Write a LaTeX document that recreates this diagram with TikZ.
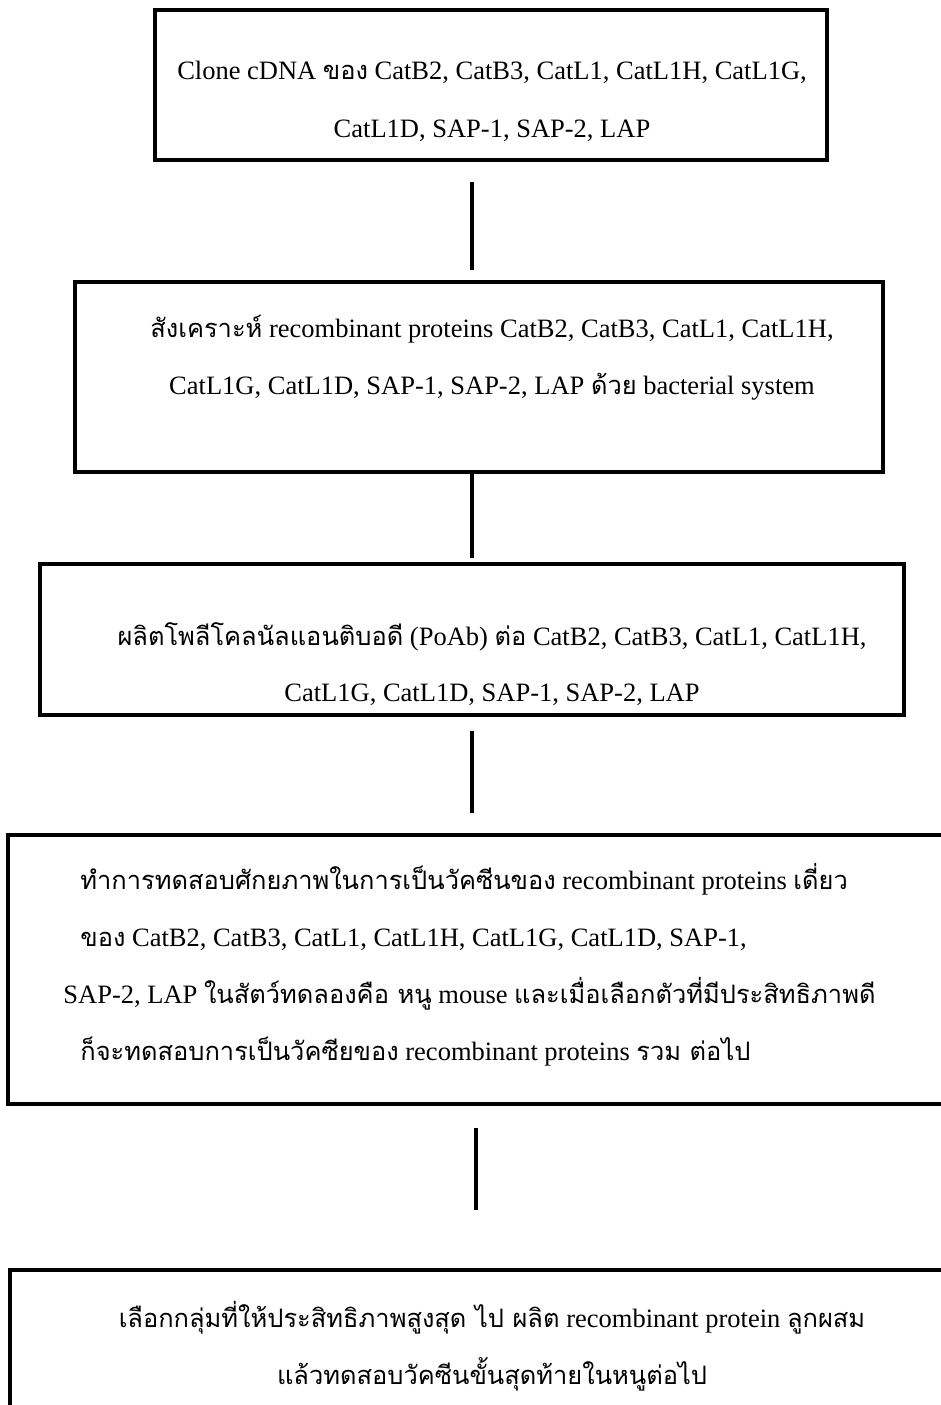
\documentclass[tikz,border=0pt]{standalone}
\usepackage{fontspec}
\setmainfont{Liberation Serif}
\newfontfamily\thaifont[Script=Thai,Scale=0.96]{Loma}
\newcommand{\tha}[1]{{\thaifont #1}}
\begin{document}
\begin{tikzpicture}[x=0.5pt,y=-0.5pt,
  box/.style={draw=black, line width=1.7pt, rectangle, inner sep=0pt, outer sep=0pt},
  conn/.style={draw=black, line width=1.7pt},
  txt/.style={inner sep=0pt, font=\fontsize{13.25pt}{28.5pt}\selectfont},
  ctxt/.style={txt, anchor=base},
  ltxt/.style={txt, anchor=base west}]
\useasboundingbox (0,0) rectangle (941,1405);
\clip (0,0) rectangle (941,1405);

% boxes
\node[box, minimum width=336pt, minimum height=75pt] (b1) at (491,85) {};
\node[box, minimum width=404pt, minimum height=95pt] (b2) at (479,377) {};
\node[box, minimum width=432pt, minimum height=75.5pt] (b3) at (472,639.5) {};
\node[box, minimum width=496pt, minimum height=134.5pt] (b4) at (504,969.5) {};
\node[box, minimum width=495pt, minimum height=115pt] (b5) at (505,1385) {};

% texts
\node[ctxt] (t1a) at (492,79) {Clone cDNA \tha{ของ} CatB2, CatB3, CatL1, CatL1H, CatL1G,};
\node[ctxt] (t1b) at (492,137) {CatL1D, SAP-1, SAP-2, LAP};

\node[ctxt] (t2a) at (492,337) {\tha{สังเคราะห์} recombinant proteins CatB2, CatB3, CatL1, CatL1H,};
\node[ctxt] (t2b) at (492,394) {CatL1G, CatL1D, SAP-1, SAP-2, LAP \tha{ด้วย} bacterial system};

\node[ctxt] (t3a) at (492,645) {\tha{ผลิตโพลีโคลนัลแอนติบอดี} (PoAb) \tha{ต่อ} CatB2, CatB3, CatL1, CatL1H,};
\node[ctxt] (t3b) at (492,701) {CatL1G, CatL1D, SAP-1, SAP-2, LAP};

\node[ltxt] (t4a) at (80,889) {\tha{ทำการทดสอบศักยภาพในการเป็นวัคซีนของ} recombinant proteins \tha{เดี่ยว}};
\node[ltxt] (t4b) at (80,946) {\tha{ของ} CatB2, CatB3, CatL1, CatL1H, CatL1G, CatL1D, SAP-1,};
\node[ltxt] (t4c) at (63,1003) {SAP-2, LAP \tha{ในสัตว์ทดลองคือ หนู} mouse \tha{และเมื่อเลือกตัวที่มีประสิทธิภาพดี}};
\node[ltxt] (t4d) at (80,1060) {\tha{ก็จะทดสอบการเป็นวัคซียของ} recombinant proteins \tha{รวม ต่อไป}};

\node[ctxt] (t5a) at (492,1327) {\tha{เลือกกลุ่มที่ให้ประสิทธิภาพสูงสุด ไป ผลิต} recombinant protein \tha{ลูกผสม}};
\node[ctxt] (t5b) at (492,1384) {\tha{แล้วทดสอบวัคซีนขั้นสุดท้ายในหนูต่อไป}};

% connectors
\coordinate (cx) at (472,0);
\coordinate (cy) at (476,0);
\draw[conn, shorten <=11pt, shorten >=6pt] (b1.south -| cx) -- (b2.north -| cx);
\draw[conn, shorten >=3pt] (b2.south -| cx) -- (b3.north -| cx);
\draw[conn, shorten <=8pt, shorten >=11pt] (b3.south -| cx) -- (b4.north -| cx);
\draw[conn, shorten <=12pt, shorten >=30pt] (b4.south -| cy) -- (b5.north -| cy);
\end{tikzpicture}
\end{document}
